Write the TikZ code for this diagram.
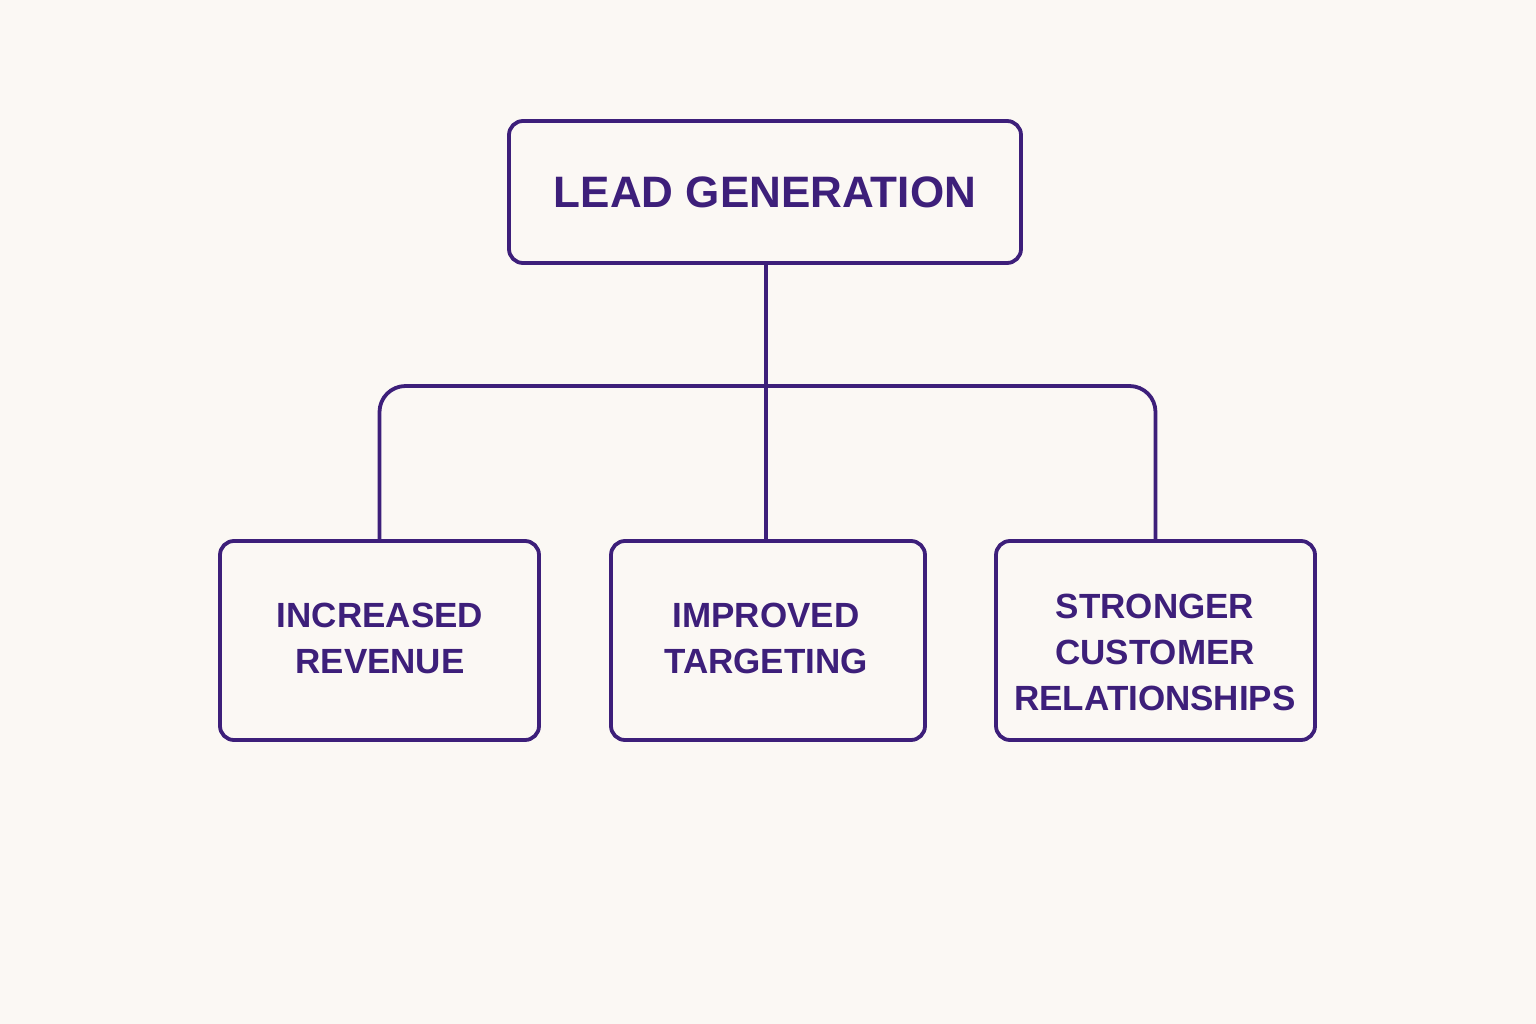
\documentclass[tikz,border=0pt]{standalone}
\usepackage{fontspec}
\setmainfont{Liberation Sans}
\definecolor{ink}{HTML}{3D1F7A}
\definecolor{paper}{HTML}{FBF8F4}
\begin{document}
\begin{tikzpicture}[x=1pt,y=-1pt,
  box/.style={draw=ink, line width=3.8pt, rounded corners=14pt, fill=paper, align=center, text=ink, font=\bfseries\fontsize{35}{46}\selectfont, inner sep=0pt},
  txt/.style={align=center, text=ink, font=\bfseries\fontsize{35}{46}\selectfont, inner sep=0pt},
  link/.style={draw=ink, line width=3.8pt}]
\fill[paper] (0,0) rectangle (1536,1024);
\useasboundingbox (0,0) rectangle (1536,1024);
\node[box, minimum width=512pt, minimum height=142pt, font=\bfseries\fontsize{44}{50}\selectfont] (top) at (765,192) {LEAD GENERATION};
\node[box, minimum width=319pt, minimum height=199pt] (l) at (379.5,640.5) {};
\node[txt] (lt) at (380,638) {INCREASED\\REVENUE};
\node[box, minimum width=314pt, minimum height=199pt] (m) at (768,640.5) {};
\node[txt] (mt) at (766,638) {IMPROVED\\TARGETING};
\node[box, minimum width=319pt, minimum height=199pt] (r) at (1155.5,640.5) {};
\node[txt] (rt) at (1155,652) {STRONGER\\CUSTOMER\\RELATIONSHIPS};
\coordinate (bus) at (766,386);
\draw[link] (top.south -| bus) -- (m.north -| bus);
\draw[link, rounded corners=26pt] (l.north) -- (l.north |- bus) -- (r.north |- bus) -- (r.north);
\end{tikzpicture}
\end{document}
